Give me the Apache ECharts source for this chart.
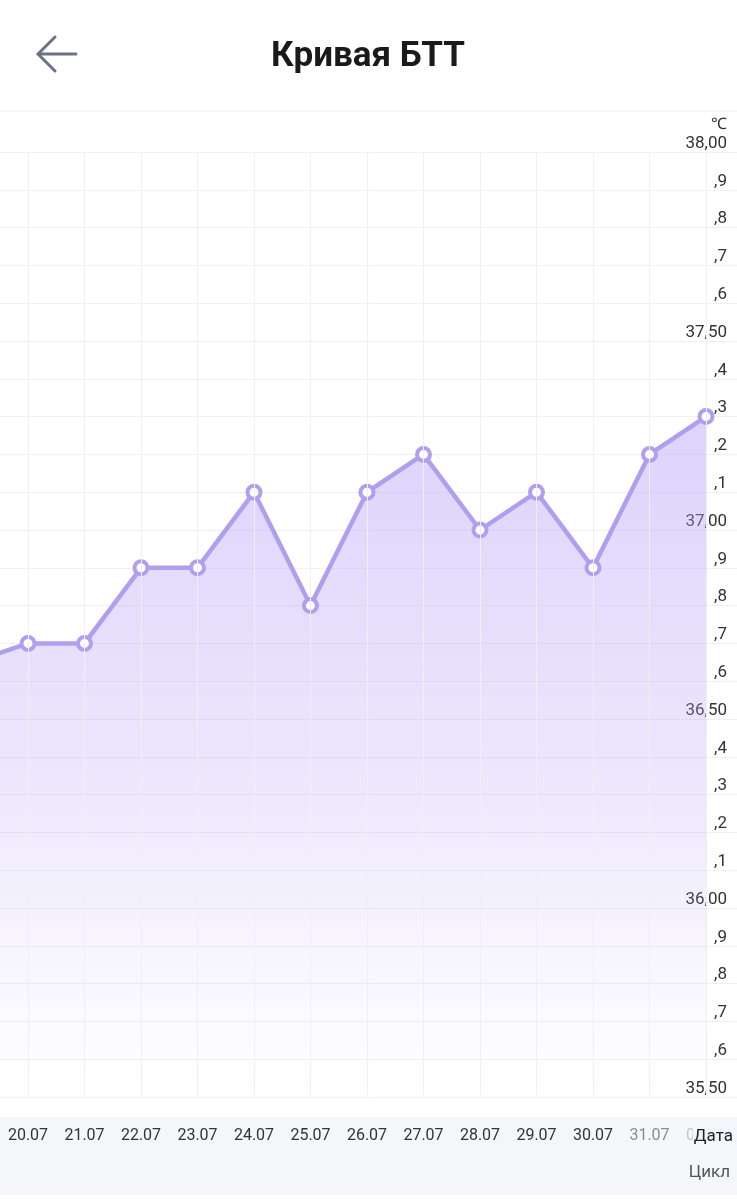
<!DOCTYPE html>
<html>
<head>
<meta charset="utf-8">
<script src="https://cdn.jsdelivr.net/npm/echarts@6/dist/echarts.min.js"></script>
<style>
html,body{margin:0;padding:0;background:#fff;}
#chart{width:737px;height:1200px;}
</style>
</head>
<body>
<div id="chart"></div>
<script>
// Categories (dates); the last empty slot only extends the grid to the right edge
var dates = ['19.07','20.07','21.07','22.07','23.07','24.07','25.07','26.07','27.07','28.07','29.07','30.07','31.07','01.08',''];
// Basal body temperature values
var temps = [36.65, 36.7, 36.7, 36.9, 36.9, 37.1, 36.8, 37.1, 37.2, 37.0, 37.1, 36.9, 37.2, 37.3, null];
// Y tick labels from 35.5 to 38.0 step 0.1
var yTickLabels = ['35,50',',6',',7',',8',',9','36,00',',1',',2',',3',',4','36,50',',6',',7',',8',',9','37,00',',1',',2',',3',',4','37,50',',6',',7',',8',',9','38,00'];
var xLabelColors = {'31.07':'#8c8c8c','01.08':'#c4c4c4'};

var FONT = 'Roboto, "Noto Sans", sans-serif';
var LINE = '#b09eee';
var chart = echarts.init(document.getElementById('chart'));
chart.setOption({
  animation: false,
  backgroundColor: '#ffffff',
  grid: { left: -28.5, width: 791, top: 152, bottom: 103, containLabel: false, outerBoundsMode: 'none' },
  xAxis: {
    type: 'category',
    data: dates,
    boundaryGap: false,
    z: 10,
    axisLine: { show: false },
    axisTick: { show: false },
    splitLine: { show: true, lineStyle: { color: '#f0f0f2', width: 1 } },
    axisLabel: {
      interval: 0,
      margin: 31,
      fontFamily: FONT,
      fontSize: 16,
      color: function (v) { return xLabelColors[v] || '#333333'; }
    }
  },
  yAxis: {
    type: 'value',
    position: 'right',
    min: 35.5,
    max: 38.0,
    interval: 0.1,
    axisLine: { show: false },
    axisTick: { show: false },
    splitLine: { show: true, lineStyle: { color: '#f0f0f2', width: 1 } },
    axisLabel: {
      inside: true,
      margin: 35.5,
      fontFamily: FONT,
      fontSize: 17,
      lineHeight: 17,
      verticalAlign: 'bottom',
      color: '#333333',
      formatter: function (v) {
        var i = Math.round((v - 35.5) * 10);
        return yTickLabels[i] !== undefined ? yTickLabels[i] : '';
      }
    }
  },
  series: [{
    type: 'line',
    data: temps,
    smooth: false,
    connectNulls: false,
    symbol: 'circle',
    symbolSize: 13,
    showAllSymbol: true,
    z: 5,
    lineStyle: { color: LINE, width: 4.5 },
    itemStyle: { color: '#ffffff', borderColor: LINE, borderWidth: 4 },
    areaStyle: {
      origin: 'start',
      color: new echarts.graphic.LinearGradient(0, 0, 0, 1, [
        { offset: 0, color: 'rgba(178,158,246,0.64)' },
        { offset: 0.5, color: 'rgba(178,158,246,0.37)' },
        { offset: 0.85, color: 'rgba(178,158,246,0.10)' },
        { offset: 1, color: 'rgba(178,158,246,0.0)' }
      ])
    }
  }],
  graphic: [
    { type: 'rect', z: -10, shape: { x: 0, y: 1117, width: 737, height: 78 }, style: { fill: '#f5f6fa' } },
    { type: 'line', shape: { x1: 0, y1: 111, x2: 737, y2: 111 }, style: { stroke: '#eeeeee', lineWidth: 1 } },
    { type: 'polyline', shape: { points: [[55, 37], [38, 54], [55, 71]] }, style: { stroke: '#687385', lineWidth: 3, fill: null, lineCap: 'round', lineJoin: 'round' } },
    { type: 'line', shape: { x1: 38, y1: 54, x2: 76, y2: 54 }, style: { stroke: '#687385', lineWidth: 3, lineCap: 'round' } },
    { type: 'text', x: 368, y: 57, style: { text: 'Кривая БТТ', font: 'bold 35px ' + FONT, fill: '#1a1a1a', textAlign: 'center', textVerticalAlign: 'middle' } },
    { type: 'text', x: 727, y: 125, style: { text: '℃', font: '16px ' + FONT, fill: '#333333', textAlign: 'right', textVerticalAlign: 'middle' } },
    { type: 'text', z: 100, x: 737, y: 1137, style: { text: 'Дата', font: '17px ' + FONT, fill: '#222222', textAlign: 'right', textVerticalAlign: 'middle', backgroundColor: 'rgba(245,246,250,0.88)', padding: [3, 4, 3, 1] } },
    { type: 'text', x: 730, y: 1173, style: { text: 'Цикл', font: '17px ' + FONT, fill: '#555555', textAlign: 'right', textVerticalAlign: 'middle' } }
  ]
});
</script>
</body>
</html>
